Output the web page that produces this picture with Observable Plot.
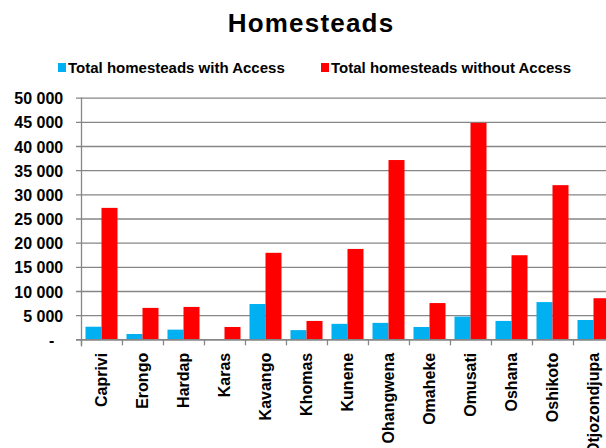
<!DOCTYPE html>
<html>
<head>
<meta charset="utf-8">
<script src="https://cdn.jsdelivr.net/npm/d3@7"></script>
<script src="https://cdn.jsdelivr.net/npm/@observablehq/plot@0.6"></script>
<style>
  html, body { margin: 0; padding: 0; width: 606px; height: 448px; overflow: hidden; background: #fff; }
  body { position: relative; font-family: Arial, "Liberation Sans", sans-serif; }
  #title { position: absolute; left: 0; top: 10px; width: 622px; text-align: center; font-size: 26px; line-height: 26px; font-weight: bold; letter-spacing: 1.2px; color: #000; }
  .leg { position: absolute; font-size: 15px; line-height: 15px; font-weight: bold; color: #000; white-space: nowrap; }
  .sw { position: absolute; width: 8px; height: 9px; }
  #chart { position: absolute; left: 0; top: 0; width: 620px; }
  #chart svg { max-width: none !important; }
</style>
</head>
<body>
<div id="title">Homesteads</div>
<div id="legend"></div>
<div id="chart"></div>
<script>
const regions = ["Caprivi","Erongo","Hardap","Karas","Kavango","Khomas","Kunene","Ohangwena","Omaheke","Omusati","Oshana","Oshikoto","Otjozondjupa"];
const withAccess    = [2600, 1100, 2000, 0, 7300, 1900, 3200, 3400, 2550, 4700, 3800, 7700, 4000];
const withoutAccess = [27200, 6500, 6700, 2550, 17900, 3800, 18700, 37100, 7500, 44800, 17400, 31900, 8500];
const seriesNames = ["Total homesteads with Access", "Total homesteads without Access"];
const seriesColors = ["#00B0F0", "#FF0000"];
const yTicks = [0, 5000, 10000, 15000, 20000, 25000, 30000, 35000, 40000, 45000, 50000];

const table = [];
regions.forEach((r, i) => {
  table.push({region: r, series: seriesNames[0], value: withAccess[i]});
  table.push({region: r, series: seriesNames[1], value: withoutAccess[i]});
});

// legend
const legend = document.getElementById("legend");
const legPos = [{sx: 58, tx: 68}, {sx: 321, tx: 331}];
seriesNames.forEach((name, i) => {
  const sw = document.createElement("div");
  sw.className = "sw";
  sw.style.left = legPos[i].sx + "px";
  sw.style.top = "63px";
  sw.style.background = seriesColors[i];
  legend.appendChild(sw);
  const t = document.createElement("div");
  t.className = "leg";
  t.style.left = legPos[i].tx + "px";
  t.style.top = "60px";
  t.textContent = name;
  legend.appendChild(t);
});

const W = 620, H = 470;
const mL = 81, mT = 97.7, mB = H - 339.3;
const bandW = 41.05;
const mR = W - (mL + regions.length * bandW);
const grid = "#868686";
const fmt = d => d === 0 ? "-\u00a0\u00a0" : d3.format(",")(d).replace(/,/g, " ");

const chart = Plot.plot({
  width: W,
  height: H,
  marginLeft: mL,
  marginRight: mR,
  marginTop: mT,
  marginBottom: mB,
  style: {fontFamily: "Arial, 'Liberation Sans', sans-serif", background: "transparent", overflow: "visible", maxWidth: "none"},
  x: {type: "band", domain: regions, padding: 0, axis: null, label: null},
  y: {domain: [0, 50000], axis: null, label: null},
  marks: [
    Plot.ruleY(yTicks.filter(d => d > 0), {y: d => d, stroke: grid, strokeWidth: 1.3, insetLeft: -5}),
    Plot.barY(table.filter(d => d.series === seriesNames[0]), {x: "region", y: "value", fill: seriesColors[0], insetLeft: 4.5, insetRight: bandW - 20.5}),
    Plot.barY(table.filter(d => d.series === seriesNames[1]), {x: "region", y: "value", fill: seriesColors[1], insetLeft: 20.5, insetRight: 4.5}),
    Plot.frame({anchor: "left", stroke: grid, strokeWidth: 1.3, insetBottom: -6}),
    Plot.ruleY([0], {stroke: grid, strokeWidth: 1.8, insetLeft: -5}),
    Plot.ruleX(regions, {x: d => d, y1: 0, y2: 0, insetBottom: -6, dx: -bandW / 2, stroke: grid, strokeWidth: 1.3}),
    Plot.axisY(yTicks, {tickSize: 0, tickPadding: 18.3, tickFormat: fmt, fontSize: 16, fontWeight: "bold", fill: "#000", dy: 1, label: null}),
    Plot.axisX({tickSize: 0, tickPadding: 13, tickRotate: -90, fontSize: 16, fontWeight: "bold", fill: "#000", label: null})
  ]
});
document.getElementById("chart").appendChild(chart);
</script>
</body>
</html>
